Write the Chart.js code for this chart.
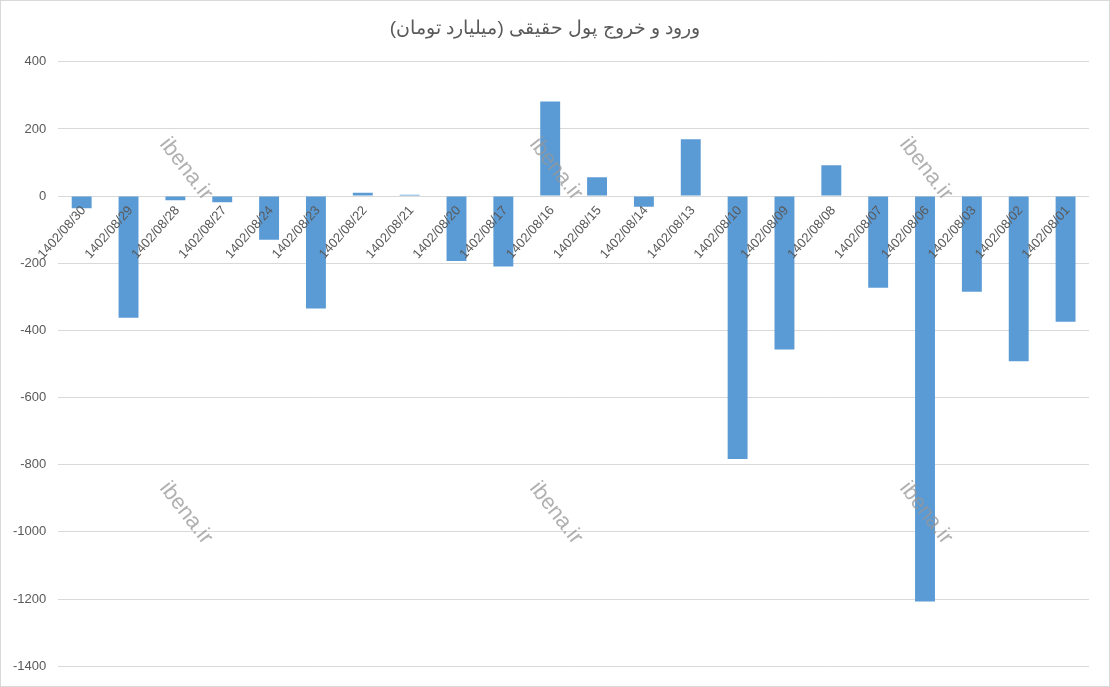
<!DOCTYPE html>
<html><head><meta charset="utf-8">
<script src="https://cdn.jsdelivr.net/npm/chart.js@4"></script>
<style>html,body{margin:0;padding:0;background:#fff}#wrap{width:1108px;height:685px;border:1px solid #d9d9d9}</style>
</head><body><div id="wrap"><canvas id="c" width="1108" height="685"></canvas></div>
<script>
const categories=["1402/08/30","1402/08/29","1402/08/28","1402/08/27","1402/08/24","1402/08/23","1402/08/22","1402/08/21","1402/08/20","1402/08/17","1402/08/16","1402/08/15","1402/08/14","1402/08/13","1402/08/10","1402/08/09","1402/08/08","1402/08/07","1402/08/06","1402/08/03","1402/08/02","1402/08/01"];
const values=[-36,-362,-12,-18,-130,-335,10,4,-193,-210,282,56,-32,169,-783,-457,92,-273,-1207,-285,-492,-374];
const titleText="ورود و خروج پول حقیقی (میلیارد تومان)";
const watermark="ibena.ir";

const labelPlugin={id:'lbl',afterDraw(ch){
 const c=ch.ctx,x=ch.scales.x,y=ch.scales.y,z=y.getPixelForValue(0);
 c.save();c.font='13px "Liberation Sans", Arial';c.fillStyle='#595959';c.textAlign='right';c.textBaseline='middle';
 categories.forEach((t,i)=>{const px=x.getPixelForValue(i);c.save();c.translate(px+2,z+12);c.rotate(-Math.PI*0.27);c.fillText(t,0,0);c.restore();});
 c.font='22px "Liberation Sans", Arial';c.fillStyle='rgba(150,150,150,0.75)';c.textAlign='center';c.textBaseline='middle';
 [[185,168],[555,168],[925,168],[185,512],[555,512],[925,512]].forEach(([px,py])=>{
  c.save();c.translate(px,py);c.rotate(Math.PI*0.29);c.fillText(watermark,0,0);c.restore();});
 c.restore();}};

new Chart(document.getElementById('c'),{type:'bar',
 data:{labels:categories,datasets:[{data:values,backgroundColor:'#5b9bd5',categoryPercentage:0.85,barPercentage:0.5}]},
 options:{responsive:false,animation:false,
  layout:{padding:{left:0,right:20,bottom:16,top:0}},
  plugins:{legend:{display:false},tooltip:{enabled:false},
   title:{display:true,text:titleText,color:'#595959',font:{size:19,weight:'normal',family:'"Liberation Sans", Arial'},padding:{top:16,bottom:22}}},
  scales:{x:{display:false},
   y:{min:-1400,max:400,ticks:{stepSize:200,color:'#595959',font:{size:13,family:'"Liberation Sans", Arial'},padding:12,callback:v=>String(v)},
    grid:{color:'#d9d9d9',drawTicks:false},border:{display:false}}}},
 plugins:[labelPlugin]});
</script></body></html>
